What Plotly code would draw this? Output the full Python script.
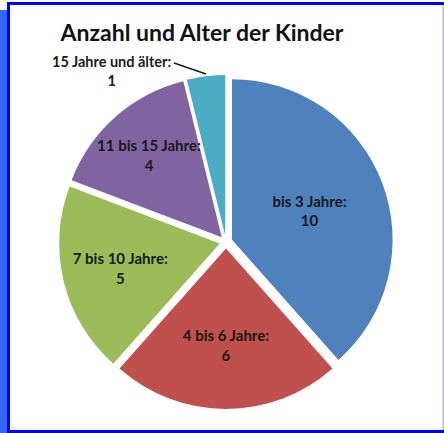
import plotly.graph_objects as go

title = "Anzahl und Alter der Kinder"
categories = ["bis 3 Jahre", "4 bis 6 Jahre", "7 bis 10 Jahre", "11 bis 15 Jahre", "15 Jahre und älter"]
values = [10, 6, 5, 4, 1]
colors = ["#4F81BD", "#C0504D", "#9BBB59", "#8064A2", "#4BACC6"]

W, H = 444, 433

def px(x):
    return x / W

def py(y):
    return 1 - y / H

texts = [f"{c}:<br>{v}" for c, v in zip(categories, values)]
texts[-1] = ""

fig = go.Figure(go.Pie(
    labels=categories,
    values=values,
    text=texts,
    textinfo="text",
    textposition="inside",
    insidetextorientation="horizontal",
    sort=False,
    direction="clockwise",
    rotation=0,
    pull=0.04,
    marker=dict(colors=colors, line=dict(width=0)),
    textfont=dict(family="Lato", size=15, color="#1a1a1a", weight="bold"),
    domain=dict(x=[px(59), px(393)], y=[py(409), py(75)]),
    hoverinfo="skip",
))

shapes = [
    dict(type="rect", xref="paper", yref="paper", x0=px(0), x1=px(7), y0=py(433), y1=py(10),
         fillcolor="#3366FF", line=dict(width=0), layer="above"),
    dict(type="rect", xref="paper", yref="paper", x0=px(7), x1=px(10), y0=py(433), y1=py(2),
         fillcolor="#0000FF", line=dict(width=0), layer="above"),
    dict(type="rect", xref="paper", yref="paper", x0=px(7), x1=px(444), y0=py(5), y1=py(2),
         fillcolor="#0000FF", line=dict(width=0), layer="above"),
    dict(type="rect", xref="paper", yref="paper", x0=px(7), x1=px(444), y0=py(433), y1=py(430),
         fillcolor="#0000FF", line=dict(width=0), layer="above"),
    dict(type="rect", xref="paper", yref="paper", x0=px(442.5), x1=px(444), y0=py(430), y1=py(5),
         fillcolor="#B4B4F0", line=dict(width=0), layer="above"),
    dict(type="line", xref="paper", yref="paper", x0=px(174), y0=py(63), x1=px(206), y1=py(74),
         line=dict(color="#1a1a1a", width=1.5)),
]

annotations = [
    dict(text=f"{categories[-1]}:<br>{values[-1]}", xref="paper", yref="paper",
         x=px(111), y=py(71), xanchor="center", yanchor="middle", showarrow=False,
         font=dict(family="Lato", size=14.5, color="#1a1a1a", weight="bold"), align="center"),
]

fig.update_layout(
    width=W, height=H,
    margin=dict(l=0, r=0, t=0, b=0),
    paper_bgcolor="white",
    plot_bgcolor="white",
    showlegend=False,
    uniformtext=dict(minsize=15, mode="show"),
    title=dict(text=f"<b>{title}</b>", x=px(202), y=py(33), xanchor="center", yanchor="middle",
               font=dict(family="Lato", size=23, color="#111111")),
    shapes=shapes,
    annotations=annotations,
)

fig.write_html(
    "out.html",
    config={"displayModeBar": False},
    post_script="document.body.style.margin='0';document.body.style.overflow='hidden';",
)
